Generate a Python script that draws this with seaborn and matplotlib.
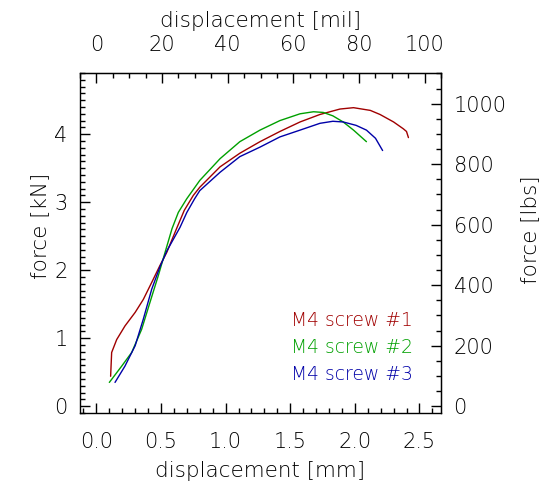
import numpy as np
import pandas as pd
import matplotlib
matplotlib.use("Agg")
import matplotlib.pyplot as plt
import seaborn as sns
from matplotlib.ticker import MultipleLocator, FixedLocator

# ─── Data ─────────────────────────────────────────────────────────────────────
disp_1 = [0.11, 0.118, 0.157, 0.221, 0.30, 0.363, 0.428, 0.492, 0.544, 0.62, 0.68,
          0.75, 0.80, 0.957, 1.11, 1.266, 1.42, 1.576, 1.73, 1.885, 1.99, 2.12,
          2.195, 2.30, 2.375, 2.40, 2.415]
force_1 = [0.44, 0.79, 0.98, 1.18, 1.38, 1.57, 1.82, 2.07, 2.26, 2.61, 2.88,
           3.10, 3.22, 3.52, 3.72, 3.89, 4.04, 4.18, 4.29, 4.37, 4.39, 4.35,
           4.29, 4.18, 4.08, 4.04, 3.95]

disp_2 = [0.10, 0.196, 0.273, 0.35, 0.415, 0.479, 0.531, 0.585, 0.634, 0.699, 0.80,
          0.957, 1.11, 1.266, 1.42, 1.576, 1.68, 1.756, 1.83, 1.91, 1.99, 2.09]
force_2 = [0.35, 0.59, 0.79, 1.13, 1.53, 1.92, 2.26, 2.61, 2.85, 3.05, 3.32,
           3.64, 3.89, 4.06, 4.20, 4.30, 4.33, 4.32, 4.27, 4.18, 4.06, 3.89]

disp_3 = [0.144, 0.221, 0.30, 0.363, 0.428, 0.492, 0.544, 0.60, 0.647, 0.70, 0.76,
          0.80, 0.957, 1.11, 1.266, 1.42, 1.576, 1.73, 1.83, 1.91, 2.01, 2.09,
          2.16, 2.215]
force_3 = [0.35, 0.59, 0.89, 1.28, 1.72, 2.05, 2.28, 2.47, 2.63, 2.85, 3.05,
           3.17, 3.44, 3.67, 3.81, 3.96, 4.06, 4.16, 4.19, 4.18, 4.13, 4.06,
           3.94, 3.76]

labels = ["M4 screw #1", "M4 screw #2", "M4 screw #3"]
colors = ["#a00000", "#00a000", "#0000a8"]

mil_ticks = [0, 20, 40, 60, 80, 100]
lbs_ticks = [0, 200, 400, 600, 800, 1000]

MM_PER_MIL = 0.0254
KN_PER_LBS = 0.0044482

sns.set_style("ticks")
plt.rcParams["font.family"] = ["DejaVu Sans"]
plt.rcParams["font.weight"] = "light"
plt.rcParams["text.color"] = "black"
plt.rcParams["axes.labelcolor"] = "black"
plt.rcParams["xtick.color"] = "black"
plt.rcParams["ytick.color"] = "black"
plt.rcParams["axes.edgecolor"] = "black"

LABEL_FS = 15.5
TICK_FS = 15

fig = plt.figure(figsize=(5.53, 4.88), dpi=100)
ax = fig.add_axes([80 / 553, (488 - 413) / 488, (441 - 80) / 553, (413 - 73) / 488])

for d, f, lab, c in zip([disp_1, disp_2, disp_3], [force_1, force_2, force_3],
                        labels, colors):
    df = pd.DataFrame({"disp": d, "force": f})
    sns.lineplot(data=df, x="disp", y="force", color=c, lw=1.0, sort=False,
                 estimator=None, ax=ax)

ax.set_xlim(-5 * MM_PER_MIL, 105 * MM_PER_MIL)
ax.set_ylim(-0.1, 4.9)

ax.xaxis.set_major_locator(MultipleLocator(0.5))
ax.xaxis.set_minor_locator(MultipleLocator(0.1))
ax.yaxis.set_major_locator(MultipleLocator(1))
ax.yaxis.set_minor_locator(MultipleLocator(0.1))
ax.xaxis.set_major_formatter(plt.FormatStrFormatter("%.1f"))
ax.set_xlabel("displacement [mm]", fontsize=LABEL_FS, fontweight="light", labelpad=6)
ax.set_ylabel("force [kN]", fontsize=LABEL_FS, fontweight="light", labelpad=3)
ax.yaxis.label.set_y(0.55)

for s in ax.spines.values():
    s.set_visible(True)
    s.set_linewidth(1.0)

ax.tick_params(which="both", direction="in", bottom=True, left=True,
               top=False, right=False, width=1.0)
ax.tick_params(which="major", length=7, labelsize=TICK_FS)
ax.tick_params(axis="x", which="major", pad=14)
ax.tick_params(axis="y", which="major", pad=9)
ax.tick_params(which="minor", length=3.5)

# top axis in mil
top = ax.secondary_xaxis("top", functions=(lambda x: x / MM_PER_MIL,
                                           lambda x: x * MM_PER_MIL))
top.xaxis.set_major_locator(FixedLocator(mil_ticks))
top.xaxis.set_minor_locator(MultipleLocator(5))
top.tick_params(which="both", direction="in", width=1.0)
top.tick_params(which="major", length=7, labelsize=TICK_FS, pad=13)
top.tick_params(which="minor", length=3.5)
top.set_xlabel("displacement [mil]", fontsize=LABEL_FS, fontweight="light",
               labelpad=6)

# right axis in lbs
right = ax.secondary_yaxis("right", functions=(lambda y: y / KN_PER_LBS,
                                               lambda y: y * KN_PER_LBS))
right.yaxis.set_major_locator(FixedLocator(lbs_ticks))
right.yaxis.set_minor_locator(MultipleLocator(50))
right.tick_params(which="both", direction="in", width=1.0)
right.tick_params(which="major", length=7, labelsize=TICK_FS, pad=9)
right.tick_params(which="minor", length=3.5)
right.set_ylabel("force [lbs]", fontsize=LABEL_FS, fontweight="light", labelpad=10)
right.yaxis.label.set_y(0.54)

# legend as coloured text
for i, (lab, c) in enumerate(zip(labels, colors)):
    ax.text(1.508, 1.265 - 0.4 * i, lab, color=c, fontsize=13.5,
            fontweight="light", va="center", ha="left")

fig.savefig("out.png", dpi=100)
